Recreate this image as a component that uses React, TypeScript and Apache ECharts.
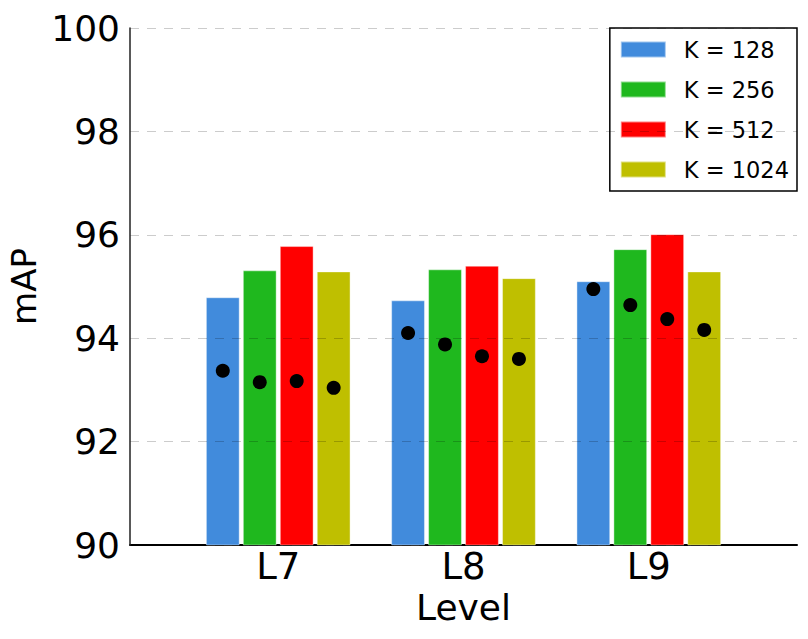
import React, { useEffect, useRef } from "react";
import * as echarts from "echarts";

const levels = ["L7", "L8", "L9"];
const levelPositions = [0, 1, 2];
const seriesNames = ["K = 128", "K = 256", "K = 512", "K = 1024"];
const colors = ["#418bdc", "#1fb81e", "#ff0000", "#bfbf00"];
// bar heights (mAP) per K, across L7, L8, L9
const barValues = [
  [94.79, 94.73, 95.1],
  [95.31, 95.33, 95.72],
  [95.78, 95.4, 96.01],
  [95.29, 95.16, 95.29],
];
// black dot values per K, across L7, L8, L9
const dotValues = [
  [93.37, 94.1, 94.95],
  [93.15, 93.88, 94.64],
  [93.17, 93.65, 94.37],
  [93.04, 93.6, 94.16],
];
const yTicks = [90, 92, 94, 96, 98, 100];

const FONT = "DejaVu Sans";

export default function App() {
  const ref = useRef<HTMLDivElement>(null);
  useEffect(() => {
    if (!ref.current) return;
    const chart = echarts.init(ref.current, undefined, { renderer: "svg" });
    const barW = 33.6;
    const gap = "10%";
    const bars = seriesNames.map((name, i) => ({
      name,
      type: "bar",
      barWidth: barW,
      barGap: gap,
      z: 2,
      data: levelPositions.map((x, j) => [x, barValues[i][j]]),
      itemStyle: { color: colors[i], borderColor: "rgba(255,255,255,0.5)", borderWidth: 0.8 },
    }));
    const dots = seriesNames.map((name, i) => ({
      name: name + " dots",
      type: "pictorialBar",
      barWidth: barW,
      barGap: gap,
      z: 20,
      symbol: "circle",
      symbolSize: [14, 14],
      symbolPosition: "end",
      symbolOffset: [0, "-50%"],
      data: levelPositions.map((x, j) => [x, dotValues[i][j]]),
      itemStyle: { color: "#000" },
    }));
    chart.setOption({
      animation: false,
      grid: { left: 122, right: 3, top: 20, bottom: 86, containLabel: false, outerBoundsMode: "none" },
      legend: {
        data: seriesNames.map((n, i) => ({ name: n, itemStyle: { color: colors[i] } })),
        orient: "vertical",
        right: 3,
        top: 20,
        itemWidth: 45,
        itemHeight: 16,
        itemGap: 17,
        icon: "rect",
        padding: [10, 8, 10, 10],
        borderColor: "#000",
        borderWidth: 1.5,
        borderRadius: 0,
        backgroundColor: "#fff",
        textStyle: { fontFamily: FONT, fontSize: 22.5, color: "#000", lineHeight: 16, padding: [0, 0, 0, 13] },
      },
      xAxis: {
        type: "value",
        min: -0.8,
        max: 2.8,
        name: "Level",
        nameLocation: "middle",
        nameGap: 44,
        nameTextStyle: { fontFamily: FONT, fontSize: 36, color: "#000" },
        axisLine: { show: true, onZero: false, lineStyle: { color: "#000", width: 2 } },
        axisTick: { show: false },
        splitLine: { show: false },
        axisLabel: {
          customValues: levelPositions,
          formatter: (v: number) => levels[Math.round(v)] ?? "",
          fontFamily: FONT,
          fontSize: 37,
          color: "#000",
          margin: 3,
        },
      },
      yAxis: {
        type: "value",
        min: 90,
        max: 100,
        interval: 2,
        z: 10,
        name: "mAP",
        nameLocation: "middle",
        nameGap: 89,
        nameMoveOverlap: false,
        nameRotate: 90,
        nameTextStyle: { fontFamily: FONT, fontSize: 34, lineHeight: 34, color: "#000" },
        axisLine: { show: true, onZero: false, lineStyle: { color: "#222", width: 1.5 } },
        axisTick: { show: false },
        axisLabel: {
          fontFamily: FONT,
          fontSize: 36,
          color: "#000",
          margin: 10,
          formatter: (v: number) => (yTicks.includes(v) ? String(v) : ""),
        },
        splitLine: {
          show: true,
          lineStyle: { color: "rgba(0,0,0,0.2)", type: [9, 8], width: 1.2 },
        },
      },
      series: [...bars, ...dots],
    });
    return () => chart.dispose();
  }, []);
  return <div ref={ref} style={{ width: 792, height: 623 }} />;
}
